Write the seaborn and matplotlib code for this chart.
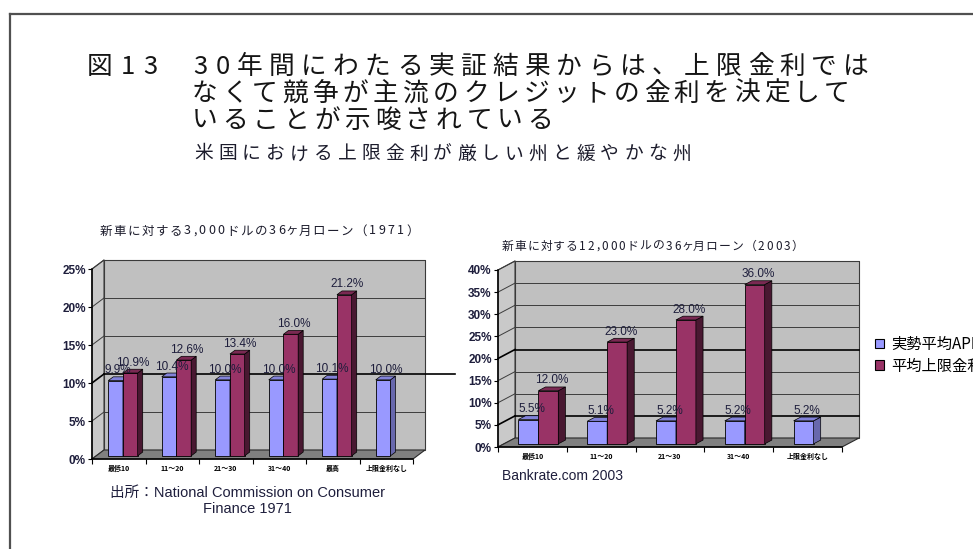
import numpy as np
import pandas as pd
import seaborn as sns
import matplotlib
matplotlib.use("Agg")
import matplotlib.pyplot as plt
from matplotlib.patches import Polygon, Patch
from matplotlib.lines import Line2D
from matplotlib.transforms import Affine2D, IdentityTransform
from matplotlib.ticker import FuncFormatter, MultipleLocator, FixedLocator

# ---------------------------------------------------------------- data
series_names = ["実勢平均APR", "平均上限金利"]

cats_1971 = ["最低10", "11〜20", "21〜30", "31〜40", "最高", "上限金利なし"]
apr_1971 = [9.9, 10.4, 10.0, 10.0, 10.1, 10.0]
cap_1971 = [10.9, 12.6, 13.4, 16.0, 21.2, np.nan]

cats_2003 = ["最低10", "11〜20", "21〜30", "31〜40", "上限金利なし"]
apr_2003 = [5.5, 5.1, 5.2, 5.2, 5.2]
cap_2003 = [12.0, 23.0, 28.0, 36.0, np.nan]

title_lines = ["30年間にわたる実証結果からは、上限金利では",
               "なくて競争が主流のクレジットの金利を決定して",
               "いることが示唆されている"]
fig_no = "図13"
subtitle = "米国における上限金利が厳しい州と緩やかな州"
chart_title_1971 = "新車に対する3,000ドルの36ヶ月ローン（1971）"
chart_title_2003 = "新車に対する12,000ドルの36ヶ月ローン（2003）"
source_1971 = "出所：National Commission on Consumer\nFinance 1971"
source_2003 = "Bankrate.com 2003"

# ---------------------------------------------------------------- style
BLUE = "#9999FF"
RED = "#993366"
WALL = "#c0c0c0"
SIDE_WALL = "#c9c9c9"
FLOOR = "#808080"
INK = "#1e1e3c"
JP = ["Noto Sans CJK JP", "DejaVu Sans"]

plt.rcParams["font.family"] = ["Liberation Sans", "Noto Sans CJK JP", "DejaVu Sans"]

W, H, DPI = 973, 549, 100
fig = plt.figure(figsize=(W / DPI, H / DPI), dpi=DPI)
fig.patch.set_facecolor("white")


def fx(x):
    return x / W


def fy(y):
    return 1 - y / H


def glyph_w(c):
    if c in ",.":
        return 0.25
    if c == " ":
        return 0.3
    if ord(c) < 0x2E80:
        return 0.56
    if c == "ヶ":
        return 0.7
    return 0.92


def tracked_text(s, x0, x1, y, size, color="#151515", weight="normal"):
    """Lay out a line of text with even letter spacing between x0 and x1."""
    em = size * DPI / 72
    ws = [glyph_w(c) * em for c in s]
    gap = (x1 - x0 - sum(ws)) / max(len(s) - 1, 1)
    cx = x0 + ws[0] / 2
    for i, c in enumerate(s):
        fig.text(fx(cx), fy(y), c, ha="center", va="center", fontsize=size,
                 color=color, family=JP, fontweight=weight)
        if i + 1 < len(s):
            cx += (ws[i] + ws[i + 1]) / 2 + gap


def bar_chart_3d(rect, cats, apr, cap, ymax, ystep, depth, width,
                 dark_levels, extend_px=0):
    x_left, x_right, y_bottom, y_top = rect
    ax = fig.add_axes([fx(x_left), fy(y_bottom), (x_right - x_left) / W,
                       (y_bottom - y_top) / H])
    df = pd.DataFrame({
        "区分": cats * 2,
        "金利": list(apr) + list(cap),
        "系列": [series_names[0]] * len(cats) + [series_names[1]] * len(cats),
    }).dropna()
    sns.barplot(data=df, x="区分", y="金利", hue="系列", order=cats,
                hue_order=series_names, palette=[BLUE, RED], saturation=1,
                width=width, dodge=True, legend=False, errorbar=None,
                edgecolor="black", linewidth=0.6, ax=ax)
    bars = list(ax.patches)

    n = len(cats)
    x0, x1 = -0.5, n - 0.5
    ax.set_xlim(x0, x1)
    ax.set_ylim(0, ymax)
    ax.set_autoscale_on(False)
    ax.patch.set_visible(False)
    ax.set_xlabel("")
    ax.set_ylabel("")

    # axes styling: front plane
    for s in ["top", "right"]:
        ax.spines[s].set_visible(False)
    for s in ["left", "bottom"]:
        ax.spines[s].set_color("black")
        ax.spines[s].set_linewidth(1.1)
        ax.spines[s].set_zorder(6)
    ax.yaxis.set_major_locator(MultipleLocator(ystep))
    ax.yaxis.set_major_formatter(FuncFormatter(lambda v, p: f"{v:.0f}%"))
    ax.tick_params(axis="y", direction="out", length=3, width=0.8, pad=1.5,
                   labelsize=8.5, labelcolor=INK)
    for t in ax.get_yticklabels():
        t.set_fontweight("bold")
    ax.tick_params(axis="x", which="major", length=0, pad=4, labelsize=5,
                   labelcolor="black")
    for t in ax.get_xticklabels():
        t.set_fontweight("bold")
        t.set_family(JP)
    ax.xaxis.set_minor_locator(FixedLocator(np.arange(x0, x1 + 0.01, 1.0)))
    ax.tick_params(axis="x", which="minor", direction="out", length=3.5,
                   width=0.8)

    dx, dy = depth
    T = ax.transData

    def disp(x, y, k=0.0):
        px, py = T.transform((x, y))
        return (px + k * dx, py + k * dy)

    def poly(pts, fc, ec="none", lw=0.0, z=1.0):
        p = Polygon(pts, closed=True, facecolor=fc, edgecolor=ec, linewidth=lw,
                    transform=IdentityTransform(), clip_on=False, zorder=z)
        ax.add_patch(p)

    def seg(p, q, color, lw, z):
        ln = Line2D([p[0], q[0]], [p[1], q[1]], color=color, linewidth=lw,
                    transform=IdentityTransform(), clip_on=False, zorder=z)
        ax.add_line(ln)

    # walls and floor
    poly([disp(x0, 0, 1), disp(x1, 0, 1), disp(x1, ymax, 1), disp(x0, ymax, 1)],
         WALL, "#3a3a3a", 0.8, 0.5)
    poly([disp(x0, 0, 0), disp(x0, 0, 1), disp(x0, ymax, 1), disp(x0, ymax, 0)],
         SIDE_WALL, "#3a3a3a", 0.8, 0.6)
    poly([disp(x0, 0, 0), disp(x1, 0, 0), disp(x1, 0, 1), disp(x0, 0, 1)],
         FLOOR, "#2a2a2a", 0.8, 0.7)

    # gridlines on the side and back walls
    for v in np.arange(ystep, ymax + 0.01, ystep):
        strong = any(abs(v - d) < 1e-6 for d in dark_levels)
        color = "black" if strong else "#3c3c3c"
        lw = 1.2 if strong else 0.7
        seg(disp(x0, v, 0), disp(x0, v, 1), color, lw, 0.9)
        end = disp(x1, v, 1)
        if strong:
            end = (end[0] + extend_px, end[1])
        seg(disp(x0, v, 1), end, color, lw, 0.9)

    # bars with side and top faces
    f, g = 0.35, 0.42
    bars = sorted([b for b in bars if np.isfinite(b.get_height())
                   and b.get_height() > 0], key=lambda b: b.get_x())
    shift = Affine2D().translate(f * dx, f * dy)
    for i, b in enumerate(bars):
        z = 2 + i * 0.1
        b.set_transform(T + shift)
        b.set_zorder(z)
        xl, w, h = b.get_x(), b.get_width(), b.get_height()
        xr = xl + w
        fc = np.array(matplotlib.colors.to_rgb(b.get_facecolor()))
        is_blue = fc[2] > 0.8
        side_k, top_k = (0.68, 0.85) if is_blue else (0.48, 0.8)
        poly([disp(xr, 0, f), disp(xr, 0, f + g), disp(xr, h, f + g),
              disp(xr, h, f)], fc * side_k, "black", 0.5, z + 0.01)
        poly([disp(xl, h, f), disp(xr, h, f), disp(xr, h, f + g),
              disp(xl, h, f + g)], fc * top_k, "black", 0.5, z + 0.01)
        ax.annotate(f"{h:.1f}%", xy=(xl + w / 2, h),
                    xytext=((f + g / 2) * dx, (f + g) * dy + 0.5),
                    textcoords="offset pixels", ha="center", va="bottom",
                    fontsize=8.5, color=INK, zorder=10, annotation_clip=False)
    return ax


# ---------------------------------------------------------------- frame
fig.add_artist(Line2D([fx(10), fx(973)], [fy(14), fy(14)], color="#505050",
                      linewidth=1.6, transform=fig.transFigure))
fig.add_artist(Line2D([fx(10), fx(10)], [fy(14), fy(549)], color="#505050",
                      linewidth=1.6, transform=fig.transFigure))

# ---------------------------------------------------------------- headings
tracked_text(fig_no, 88, 158, 67, 18.5)
tracked_text(title_lines[0], 193, 868, 67, 18.5)
tracked_text(title_lines[1], 193, 849, 94, 18.5)
tracked_text(title_lines[2], 193, 552, 121, 18.5)
tracked_text(subtitle, 195, 690, 154, 13.5, color="#1c1c2c")

tracked_text(chart_title_1971, 100, 418, 231, 9, color="#1c1c2c")
tracked_text(chart_title_2003, 502, 803, 246, 8.5, color="#1c1c2c")

# ---------------------------------------------------------------- charts
bar_chart_3d((92, 413, 459, 269), cats_1971, apr_1971, cap_1971,
             ymax=25, ystep=5, depth=(12, 9), width=0.55,
             dark_levels=[10], extend_px=30)
bar_chart_3d((498, 842, 447, 270), cats_2003, apr_2003, cap_2003,
             ymax=40, ystep=5, depth=(17, 9), width=0.58,
             dark_levels=[5, 20])

# ---------------------------------------------------------------- sources
fig.text(fx(247), fy(501), source_1971, ha="center", va="center",
         fontsize=10.5, color=INK, linespacing=1.15)
fig.text(fx(502), fy(476), source_2003, ha="left", va="center",
         fontsize=10, color=INK)

# ---------------------------------------------------------------- legend
handles = [Patch(facecolor=BLUE, edgecolor="black", linewidth=0.8,
                 label=series_names[0]),
           Patch(facecolor=RED, edgecolor="black", linewidth=0.8,
                 label=series_names[1])]
fig.legend(handles=handles, loc="upper left",
           bbox_to_anchor=(fx(875), fy(336)), frameon=False,
           handlelength=0.6, handleheight=0.6, handletextpad=0.45,
           labelspacing=0.3, borderpad=0, borderaxespad=0,
           prop={"family": JP, "size": 11})

fig.savefig("out.png", dpi=DPI)
